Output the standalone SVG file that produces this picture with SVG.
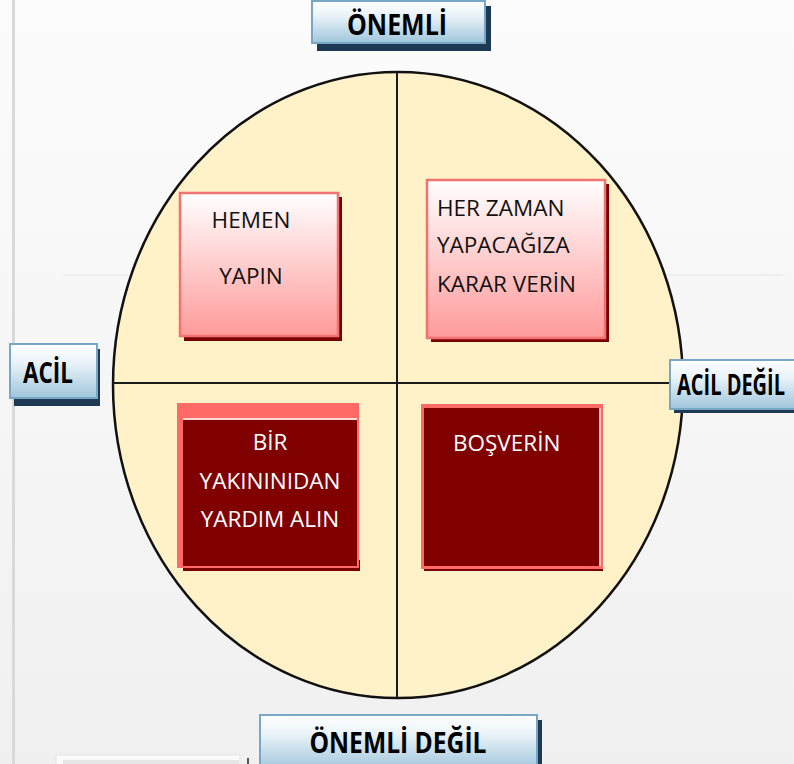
<svg xmlns="http://www.w3.org/2000/svg" width="794" height="764" viewBox="0 0 794 764">
<defs>
<linearGradient id="bg" x1="0" y1="0" x2="0" y2="1"><stop offset="0" stop-color="#fcfcfc"/><stop offset="1" stop-color="#f0f0f0"/></linearGradient>
<linearGradient id="blue" x1="0" y1="0" x2="0" y2="1"><stop offset="0" stop-color="#ffffff"/><stop offset="0.35" stop-color="#eaf3f8"/><stop offset="1" stop-color="#9fc5db"/></linearGradient>
<linearGradient id="pink" x1="0" y1="0" x2="0" y2="1"><stop offset="0" stop-color="#ffffff"/><stop offset="1" stop-color="#ff9a9a"/></linearGradient>
<style>
.lbl{font-family:"Open Sans","Liberation Sans",sans-serif;font-weight:bold;font-size:28px;fill:#000}
.bx{fill:url(#blue);stroke:#78a6c4;stroke-width:2}
.bsh{fill:#1d3a55}
.pk{fill:url(#pink);stroke:#f07272;stroke-width:2.5}
.psh{fill:#7a0000}
.t{font-family:"Open Sans","Liberation Sans",sans-serif;font-size:22.5px;fill:#111}
.tw{font-family:"Open Sans","Liberation Sans",sans-serif;font-size:22.5px;fill:#fff}
.ax{stroke:#1a1a1a;stroke-width:2;fill:none}
</style>
</defs>
<rect width="794" height="764" fill="url(#bg)"/>
<rect x="12" y="0" width="3" height="764" fill="#d9d9d9"/>
<line x1="63" y1="275" x2="783" y2="275" stroke="#ebebeb" stroke-width="1.5"/>
<rect x="56" y="755" width="184" height="12" fill="#fafafa" stroke="#e3e3e3"/>
<rect x="63" y="760" width="176" height="6" fill="#e6e6e6"/>
<rect x="247" y="758" width="2" height="6" fill="#555"/>

<g id="circle">
<ellipse cx="398" cy="385" rx="285" ry="313" fill="#fff2c9" stroke="#111" stroke-width="2.5"/>
</g>
<g id="connectors">
<line class="ax" x1="397" y1="72" x2="397" y2="698"/>
<line class="ax" x1="113" y1="383" x2="683" y2="383"/>
</g>

<g id="onemli">
<rect class="bsh" x="317" y="6" width="174" height="45"/>
<rect class="bx" x="312" y="1" width="173" height="42"/>
<text class="lbl" x="397" y="35" text-anchor="middle" textLength="100" lengthAdjust="spacingAndGlyphs">ÖNEMLİ</text>
</g>
<g id="acil">
<rect class="bsh" x="14" y="349" width="86" height="57"/>
<rect class="bx" x="10" y="344" width="87" height="54"/>
<text class="lbl" x="48" y="383" text-anchor="middle" textLength="50" lengthAdjust="spacingAndGlyphs">ACİL</text>
</g>
<g id="acildegil">
<rect class="bsh" x="674" y="366" width="130" height="47"/>
<rect class="bx" x="670" y="360" width="130" height="49"/>
<text class="lbl" x="677" y="395" font-size="26" textLength="108" lengthAdjust="spacingAndGlyphs">ACİL DEĞİL</text>
</g>
<g id="onemlidegil">
<rect class="bsh" x="264" y="720" width="278" height="50"/>
<rect class="bx" x="260" y="715" width="277" height="55"/>
<text class="lbl" x="398" y="753" text-anchor="middle" textLength="177" lengthAdjust="spacingAndGlyphs">ÖNEMLİ DEĞİL</text>
</g>

<g id="hemen">
<rect class="psh" x="184" y="197" width="158" height="144"/>
<rect class="pk" x="180" y="193" width="158" height="143"/>
<text class="t" x="251" y="228" text-anchor="middle">HEMEN</text>
<text class="t" x="251" y="284" text-anchor="middle">YAPIN</text>
</g>
<g id="herzaman">
<rect class="psh" x="431" y="184" width="178" height="158"/>
<rect class="pk" x="427" y="180" width="178" height="158"/>
<text class="t" x="437" y="216">HER ZAMAN</text>
<text class="t" x="437" y="253">YAPACAĞIZA</text>
<text class="t" x="437" y="292">KARAR VERİN</text>
</g>
<g id="bir">
<rect class="psh" x="183" y="560" width="177" height="11"/>
<rect x="177" y="403" width="182" height="165" fill="#ff6a66"/>
<rect x="183" y="420" width="174" height="146" fill="#800000"/>
<line x1="183" y1="419" x2="357" y2="419" stroke="#fff" stroke-width="1.5"/>
<text class="tw" x="270" y="450" text-anchor="middle">BİR</text>
<text class="tw" x="270" y="489" text-anchor="middle">YAKININIDAN</text>
<text class="tw" x="270" y="527" text-anchor="middle">YARDIM ALIN</text>
</g>
<g id="bosverin">
<rect class="psh" x="424" y="560" width="179" height="11"/>
<rect x="421" y="404" width="182" height="165" fill="#ff6a66"/>
<rect x="424" y="408" width="175" height="158" fill="#800000"/>
<line x1="600" y1="408" x2="600" y2="566" stroke="#fff" stroke-width="1.2"/>
<text class="tw" x="453" y="451">BOŞVERİN</text>
</g>
</svg>
